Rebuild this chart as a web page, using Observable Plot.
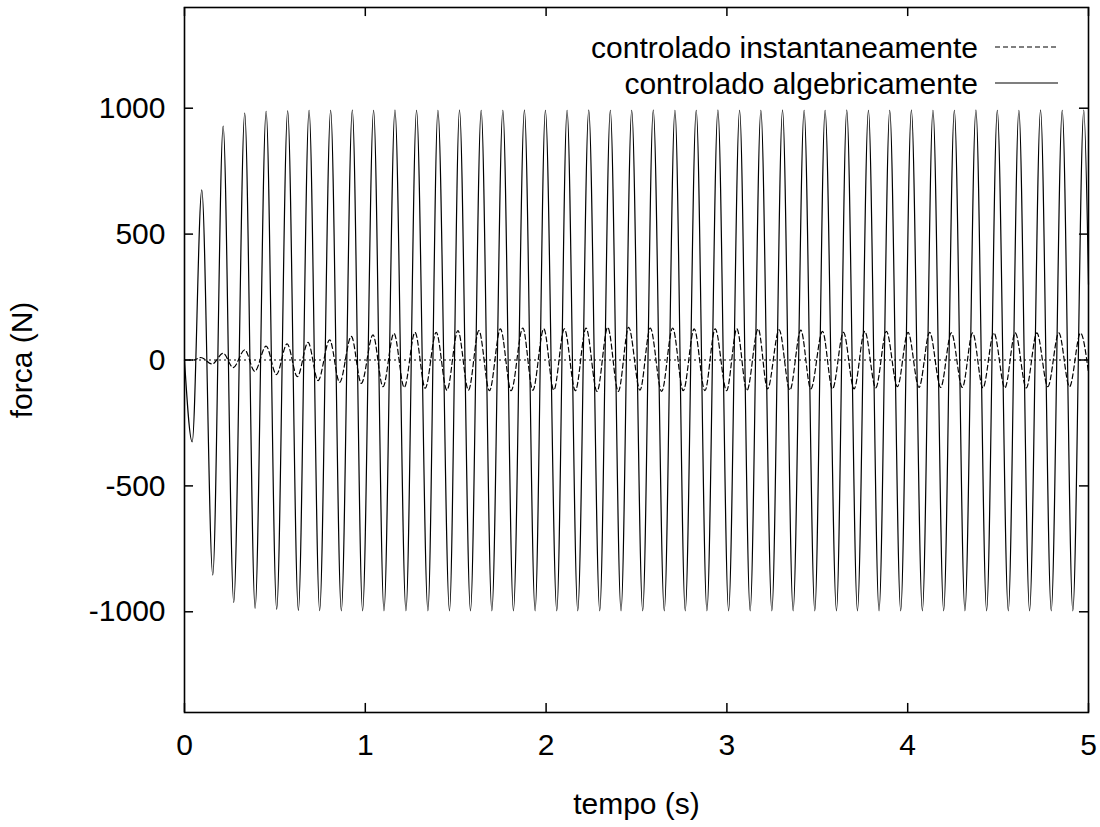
<!DOCTYPE html>
<html><head><meta charset="utf-8">
<script src="https://cdn.jsdelivr.net/npm/d3@7"></script>
<script src="https://cdn.jsdelivr.net/npm/@observablehq/plot@0.6"></script>
<style>body{margin:0;background:#fff} #chart{width:1100px;height:827px}</style>
</head><body><div id="chart"></div>
<script>
const xTicks = [0, 1, 2, 3, 4, 5];
const yTicks = [-1000, -500, 0, 500, 1000];
const seriesNames = ["controlado instantaneamente", "controlado algebricamente"];
const xLabel = "tempo (s)";
const yLabel = "forca (N)";

// controlado algebricamente: extrema (time s, force N)
const solidT = [0, 0.0425, 0.0956, 0.1564, 0.2138, 0.2724, 0.3331, 0.3906, 0.4514, 0.5099, 0.5707,
  0.6298, 0.6890, 0.7475, 0.8083, 0.8674, 0.9282, 0.9851, 1.0459, 1.1033, 1.1641, 1.2249, 1.2834,
  1.3464, 1.4017, 1.4657, 1.5210, 1.5818, 1.6409, 1.7000, 1.7608, 1.8193, 1.8801, 1.9392, 1.9961,
  2.0591, 2.1160, 2.1751, 2.2359, 2.2967, 2.3552, 2.4144, 2.4735, 2.5343, 2.5928, 2.6536, 2.7127,
  2.7696, 2.8304, 2.8895, 2.9503, 3.0094, 3.0702, 3.1287, 3.1878, 3.2486, 3.3077, 3.3663, 3.4271,
  3.4862, 3.5431, 3.6061, 3.6630, 3.7221, 3.7829, 3.8414, 3.9006, 3.9613, 4.0204, 4.0812, 4.1398,
  4.1989, 4.2580, 4.3166, 4.3773, 4.4365, 4.4956, 4.5564, 4.6149, 4.6740, 4.7348, 4.7939, 4.8547,
  4.9133, 4.9740, 5.0];
const solidV = [0, -325, 676, -854, 929, -963, 981, -986, 988, -990, 990,
  -994, 992, -995, 992, -996, 993, -996, 992, -996, 993, -996, 992,
  -996, 992, -996, 993, -996, 992, -996, 992, -996, 993, -996, 992,
  -996, 992, -996, 993, -996, 992, -996, 992, -996, 993, -996, 992,
  -996, 992, -996, 993, -996, 992, -996, 992, -996, 993, -996, 992,
  -996, 992, -996, 993, -996, 992, -996, 992, -996, 993, -996, 992,
  -996, 992, -996, 993, -996, 992, -996, 992, -996, 993, -996, 992,
  -996, 993, 300];

// controlado instantaneamente: extrema (time s, force N)
const dashT = [0, 0.05, 0.0901, 0.1530, 0.2138, 0.2691, 0.3331, 0.3884, 0.4514, 0.5083, 0.5674,
  0.6243, 0.6834, 0.7387, 0.8028, 0.8580, 0.9227, 0.9779, 1.0425, 1.0978, 1.1586, 1.2155, 1.2751,
  1.3315, 1.3923, 1.4514, 1.5122, 1.5707, 1.6282, 1.6867, 1.7475, 1.8066, 1.8713, 1.9265, 1.9873,
  2.0425, 2.1011, 2.1619, 2.2210, 2.2818, 2.3409, 2.3994, 2.4569, 2.5193, 2.5762, 2.6392, 2.7000,
  2.7586, 2.8193, 2.8785, 2.9354, 2.9983, 3.0552, 3.1105, 3.1729, 3.2249, 3.2890, 3.3481, 3.4088,
  3.4641, 3.5287, 3.5840, 3.6448, 3.7033, 3.7624, 3.8232, 3.8823, 3.9431, 4.0017, 4.0624, 4.1215,
  4.1823, 4.2414, 4.3022, 4.3591, 4.4160, 4.4768, 4.5376, 4.5950, 4.6558, 4.7144, 4.7751, 4.8359,
  4.8950, 4.9558, 5.0];
const dashV = [0, 0, 10, -16, 27, -30, 40, -45, 55, -58, 64,
  -66, 70, -82, 80, -89, 94, -93, 100, -106, 106, -109, 110,
  -112, 110, -120, 117, -120, 117, -122, 124, -122, 127, -120, 124,
  -120, 124, -122, 127, -125, 130, -125, 130, -120, 127, -125, 127,
  -122, 124, -122, 124, -122, 124, -122, 124, -115, 120, -120, 119,
  -115, 114, -115, 110, -115, 114, -111, 114, -106, 110, -109, 110,
  -109, 108, -109, 108, -111, 108, -111, 108, -111, 108, -106, 108,
  -106, 107, -50];

const solid = solidT.map((t, i) => ({t, v: solidV[i]}));
const dashed = dashT.map((t, i) => ({t, v: dashV[i]}));

const FONT = "'Liberation Sans', Arial, Helvetica, sans-serif";
const TX = 0.05, TY = 36;
const x0 = xTicks[0], x1 = xTicks[xTicks.length - 1];

const plot = Plot.plot({
  width: 1100, height: 827,
  marginLeft: 184, marginRight: 12, marginTop: 7, marginBottom: 115,
  style: {fontFamily: FONT, fontSize: "30px", background: "#fff", color: "#000", overflow: "visible"},
  x: {domain: [x0, x1]},
  y: {domain: [-1400, 1400]},
  marks: [
    Plot.ruleY([0], {stroke: "#000", strokeWidth: 1, strokeDasharray: "2,3"}),
    Plot.line(dashed, {x: "t", y: "v", curve: "monotone-x", stroke: "#000", strokeWidth: 1.2, strokeDasharray: "5,3"}),
    Plot.line(solid, {x: "t", y: "v", curve: "monotone-x", stroke: "#000", strokeWidth: 1.2}),
    Plot.ruleY(yTicks, {x1: x0, x2: x0 + TX, stroke: "#000", strokeWidth: 1.5}),
    Plot.ruleY(yTicks, {x1: x1 - TX, x2: x1, stroke: "#000", strokeWidth: 1.5}),
    Plot.ruleX(xTicks, {y1: -1400, y2: -1400 + TY, stroke: "#000", strokeWidth: 1.5}),
    Plot.ruleX(xTicks, {y1: 1400 - TY, y2: 1400, stroke: "#000", strokeWidth: 1.5}),
    Plot.frame({stroke: "#000", strokeWidth: 1.6}),
    Plot.axisX(xTicks, {tickSize: 0, tickPadding: 21, fontSize: 30, label: null, tickFormat: d => String(d)}),
    Plot.axisY(yTicks, {tickSize: 0, tickPadding: 19, fontSize: 30, label: null, tickFormat: d => String(d)}),
    Plot.text([xLabel], {text: d => d, frameAnchor: "bottom", dy: 92, lineAnchor: "middle", fontSize: 30, fill: "#000"}),
    Plot.text([yLabel], {text: d => d, frameAnchor: "left", dx: -162, rotate: -90, lineAnchor: "middle", textAnchor: "middle", fontSize: 30, fill: "#000"})
  ]
});
document.getElementById("chart").appendChild(plot);

// legend inside the plot area (top right)
const svg = d3.select(plot);
const leg = svg.append("g").attr("font-family", FONT).attr("font-size", 30);
const rows = [{name: seriesNames[0], dash: "5,3", y: 47}, {name: seriesNames[1], dash: null, y: 83}];
rows.forEach(r => {
  leg.append("text").attr("x", 978).attr("y", r.y).attr("dy", "0.35em")
    .attr("text-anchor", "end").attr("fill", "#000").text(r.name);
  const ln = leg.append("line").attr("x1", 995).attr("x2", 1058).attr("y1", r.y).attr("y2", r.y)
    .attr("stroke", "#000").attr("stroke-width", 1.2);
  if (r.dash) ln.attr("stroke-dasharray", r.dash);
});
</script>
</body></html>
